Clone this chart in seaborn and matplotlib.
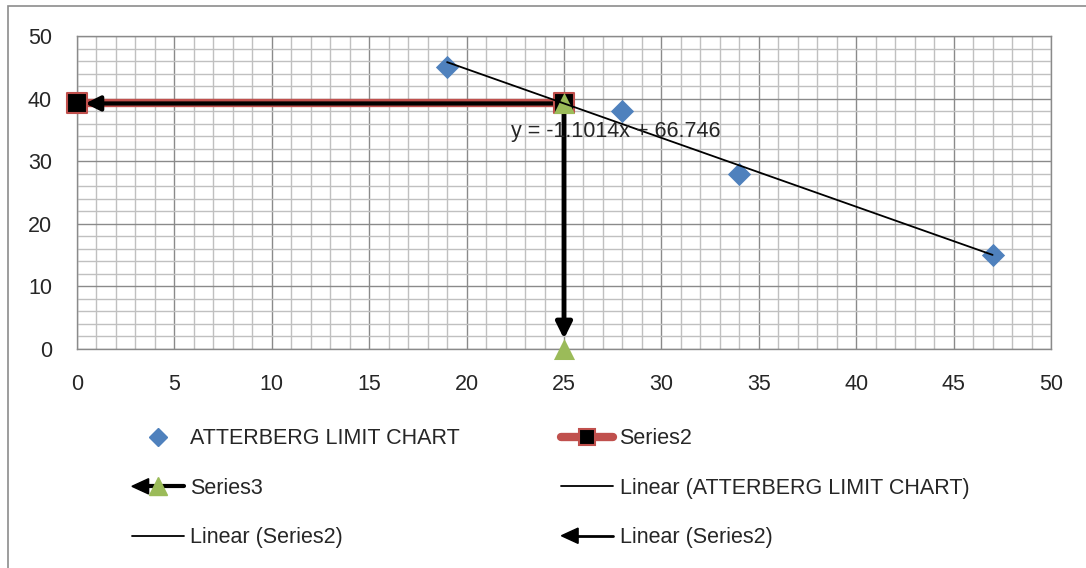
import matplotlib
matplotlib.use("Agg")
import numpy as np
import pandas as pd
import matplotlib.pyplot as plt
import seaborn as sns
from matplotlib.lines import Line2D
from matplotlib.patches import Polygon, Rectangle
from matplotlib.legend_handler import HandlerBase
from matplotlib.ticker import MultipleLocator

# data
atterberg_x = [19, 28, 34, 47]
atterberg_y = [45, 38, 28, 15]
series2_x = [0, 25]
series2_y = [39.21, 39.21]
series3_x = [25, 25]
series3_y = [39.21, 0]
x_ticks = [0, 5, 10, 15, 20, 25, 30, 35, 40, 45, 50]
y_ticks = [0, 10, 20, 30, 40, 50]

BLUE = "#4F81BD"
RED = "#C0504D"
GREEN = "#9BBB59"
MINOR = "#c0c0c0"
MAJOR = "#8a8a8a"
FS = 15.5

sns.set_theme(style="white")
plt.rcParams["font.family"] = ["Liberation Sans", "DejaVu Sans"]


class ArrowLineHandler(HandlerBase):
    """Legend handle: black line with a left-pointing arrow head, optional marker."""

    def __init__(self, lw, marker=None, mcolor=None, msize=None):
        super().__init__()
        self.lw = lw
        self.marker = marker
        self.mcolor = mcolor
        self.msize = msize

    def create_artists(self, legend, orig_handle, xdescent, ydescent,
                       width, height, fontsize, trans):
        y = height / 2 - ydescent
        x0, x1 = -xdescent, width - xdescent
        hl, hw = 12, 5.5
        line = Line2D([x0 + hl - 1, x1], [y, y], color="black", lw=self.lw,
                      transform=trans)
        head = Polygon([[x0, y], [x0 + hl, y + hw], [x0 + hl, y - hw]],
                       closed=True, color="black", transform=trans)
        artists = [line, head]
        if self.marker:
            artists.append(Line2D([(x0 + x1) / 2], [y], marker=self.marker,
                                  color=self.mcolor, markersize=self.msize,
                                  linestyle="none", transform=trans))
        return artists


fig = plt.figure(figsize=(10.86, 5.68), dpi=100)
ax = fig.add_axes([0.0709, 0.3864, 0.8969, 0.5502])

ax.set_xlim(0, 50)
ax.set_ylim(0, 50)
ax.xaxis.set_major_locator(MultipleLocator(5))
ax.xaxis.set_minor_locator(MultipleLocator(1))
ax.yaxis.set_major_locator(MultipleLocator(10))
ax.yaxis.set_minor_locator(MultipleLocator(2))
ax.grid(which="minor", color=MINOR, lw=1.0, zorder=0)
ax.grid(which="major", color=MAJOR, lw=1.0, zorder=0)
ax.set_axisbelow(True)
for s in ax.spines.values():
    s.set_color(MAJOR)
    s.set_linewidth(1.0)
ax.set_xticks(x_ticks)
ax.set_yticks(y_ticks)
ax.tick_params(which="both", length=0)
ax.tick_params(axis="x", pad=18, labelsize=FS)
ax.tick_params(axis="y", pad=18, labelsize=FS)

# Series2: red line, black squares, black arrow trend line on top
s2 = pd.DataFrame({"x": series2_x, "y": series2_y})
sns.lineplot(data=s2, x="x", y="y", sort=False, estimator=None, color=RED,
             lw=6, ax=ax, zorder=3)
ax.annotate("", xy=(series2_x[0], series2_y[0]), xytext=(series2_x[1], series2_y[1]),
            arrowprops=dict(arrowstyle="-|>", color="black", lw=3, mutation_scale=22,
                            shrinkA=0, shrinkB=6), zorder=4)
sns.scatterplot(data=s2, x="x", y="y", marker="s", s=190, color="black",
                edgecolor=RED, linewidth=1.5, ax=ax, zorder=5, clip_on=False)

# Series3: black vertical arrow, green triangles
s3 = pd.DataFrame({"x": series3_x, "y": series3_y})
ax.annotate("", xy=(series3_x[1], series3_y[1]), xytext=(series3_x[0], series3_y[0]),
            arrowprops=dict(arrowstyle="-|>", color="black", lw=3.5, mutation_scale=24,
                            shrinkA=0, shrinkB=7), zorder=4)
sns.scatterplot(data=s3, x="x", y="y", marker="^", s=230, color=GREEN,
                edgecolor=GREEN, linewidth=0, ax=ax, zorder=6, clip_on=False)

# Atterberg points and linear trend
pts = pd.DataFrame({"x": atterberg_x, "y": atterberg_y})
sns.scatterplot(data=pts, x="x", y="y", marker="D", s=140, color=BLUE,
                edgecolor=BLUE, linewidth=0, ax=ax, zorder=5)
m, b = np.polyfit(atterberg_x, atterberg_y, 1)
trend = pd.DataFrame({"x": [min(atterberg_x), max(atterberg_x)]})
trend["y"] = m * trend["x"] + b
sns.lineplot(data=trend, x="x", y="y", color="black", lw=1.3, ax=ax, zorder=7)
ax.text(22.3, 34.8, f"y = {m:.4f}x + {b:.3f}", fontsize=FS, va="center",
        ha="left", zorder=8)

ax.set_xlabel("")
ax.set_ylabel("")

# legend
h_att = Line2D([], [], marker="D", color=BLUE, markersize=9, linestyle="none")
h_s2 = Line2D([], [], color=RED, lw=6, marker="s", markersize=11,
              markerfacecolor="black", markeredgecolor=RED, markeredgewidth=1.5)
h_s3 = Line2D([], [])
h_lin_att = Line2D([], [], color="black", lw=1.3)
h_lin_s2 = Line2D([], [], color="black", lw=1.3)
h_lin_s2_arrow = Line2D([], [])

handles = [h_att, h_s3, h_lin_s2, h_s2, h_lin_att, h_lin_s2_arrow]
labels = ["ATTERBERG LIMIT CHART", "Series3", "Linear (Series2)",
          "Series2", "Linear (ATTERBERG LIMIT CHART)", "Linear (Series2)"]
fig.legend(handles, labels, ncol=2, frameon=False, fontsize=FS,
           loc="upper left", bbox_to_anchor=(0.1215, 0.2457),
           handlelength=2.4, handletextpad=0.3, columnspacing=4.72,
           labelspacing=1.32, borderaxespad=0, borderpad=0,
           handler_map={h_s3: ArrowLineHandler(3, "^", GREEN, 13),
                        h_lin_s2_arrow: ArrowLineHandler(2)})

# chart area border
fig.patches.append(Rectangle((8 / 1086, -0.05), 1.2, (568 - 6) / 568 + 0.05,
                             transform=fig.transFigure, fill=False,
                             edgecolor="#8c8c8c", lw=1.2))

fig.savefig("out.png", dpi=100)
